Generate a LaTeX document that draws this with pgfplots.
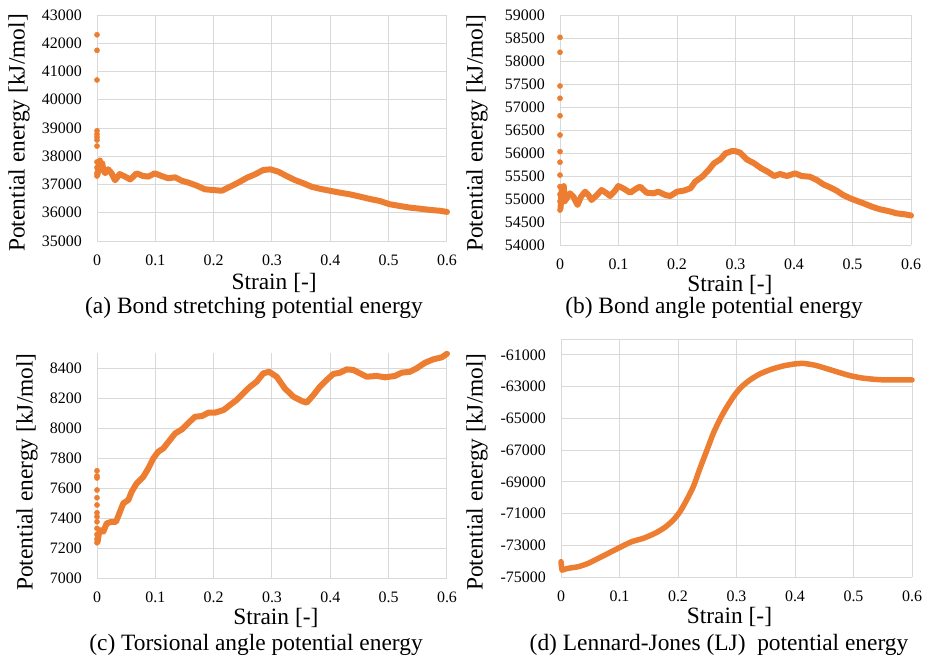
\documentclass[border=0pt]{standalone}
\usepackage{fontspec}
\setmainfont{Liberation Serif}
\usepackage{pgfplots}
\pgfplotsset{compat=1.18}
\definecolor{xlorange}{RGB}{237,125,49}
\definecolor{gridgray}{RGB}{217,217,217}
\newcommand{\tickfont}{\fontsize{16}{19}\selectfont}
\newcommand{\labfont}{\fontsize{23.5}{28}\selectfont}

\pgfplotsset{
  panel/.style={
    scale only axis, anchor=south west, clip=false,
    xmin=0, xmax=0.6, xtick={0,0.1,0.2,0.3,0.4,0.5,0.6},
    axis line style={draw=none},
    grid=major, major grid style={draw=gridgray, line width=1bp},
    major tick length=0pt, tick style={draw=none},
    /pgf/number format/assume math mode=true,
    /pgf/number format/1000 sep={},
    scaled y ticks=false,
    tick label style={font=\tickfont, inner sep=0pt},
    yticklabel style={anchor=east, xshift=-15bp},
    xticklabel style={anchor=north, yshift=-13.5bp},
    label style={font=\labfont},
    ylabel={Potential energy [kJ/mol]},
    xlabel={Strain [-]},
  },
  curve/.style={draw=xlorange, line width=6bp, line join=round, line cap=round, no marks},
  dots/.style={only marks, mark=*, mark size=2.6bp, color=xlorange},
}

\begin{document}
\begin{tikzpicture}
\path[use as bounding box] (0,0) rectangle (928bp,-658bp);

%%%%% (a) bond stretching
\begin{axis}[panel, at={(97bp,-241bp)}, width=350bp, height=226bp,
  ymin=35000, ymax=43000, ytick={35000,36000,...,43000},
  ylabel style={at={(axis description cs:-0.2229,0.478)}, anchor=center},
  xlabel style={at={(axis description cs:0.506,-0.186)}, anchor=center}]
\addplot[curve] coordinates {
(0.001,37350)(0.003,37700)(0.005,37850)(0.007,37600)(0.009,37750)(0.011,37500)
(0.014,37400)(0.019,37540)(0.025,37400)(0.031,37150)(0.039,37370)(0.048,37280)
(0.057,37180)(0.068,37395)(0.079,37300)(0.088,37280)(0.099,37395)(0.111,37300)
(0.122,37220)(0.134,37255)(0.145,37135)(0.157,37065)(0.171,36960)(0.185,36830)
(0.199,36805)(0.214,36780)(0.228,36920)(0.242,37065)(0.257,37240)(0.271,37360)
(0.285,37513)(0.297,37537)(0.311,37453)(0.325,37300)(0.339,37160)(0.354,37042)
(0.368,36920)(0.382,36850)(0.399,36780)(0.417,36710)(0.434,36650)(0.451,36570)
(0.468,36487)(0.485,36416)(0.502,36300)(0.519,36240)(0.537,36180)(0.554,36143)
(0.571,36100)(0.588,36070)(0.6,36030)};
\addplot[dots] coordinates {
(0,42300)(0,41750)(0,40700)(0,38900)(0,38780)(0,38680)(0,38575)(0,38360)
(0,37800)(0,37600)(0,37400)(0,37300)};
\end{axis}

%%%%% (b) bond angle
\begin{axis}[panel, at={(560bp,-245bp)}, width=351bp, height=230bp,
  ymin=54000, ymax=59000, ytick={54000,54500,...,59000},
  ylabel style={at={(axis description cs:-0.2365,0.487)}, anchor=center},
  xlabel style={at={(axis description cs:0.484,-0.174)}, anchor=center}]
\addplot[curve] coordinates {
(0.001,54800)(0.003,55250)(0.005,54950)(0.0065,55280)(0.008,54950)(0.0114,55015)
(0.017,55123)(0.023,55050)(0.030,54870)(0.036,55050)(0.043,55159)(0.0485,55087)
(0.054,54978)(0.063,55087)(0.071,55196)(0.080,55123)(0.0855,55065)(0.094,55180)
(0.0997,55282)(0.108,55232)(0.12,55137)(0.131,55232)(0.137,55268)(0.148,55137)
(0.16,55123)(0.168,55159)(0.18,55087)(0.1885,55065)(0.2,55159)(0.211,55180)
(0.223,55232)(0.231,55376)(0.243,55485)(0.254,55630)(0.263,55775)(0.274,55862)
(0.283,55993)(0.294,56043)(0.299,56043)(0.308,56007)(0.319,55862)(0.332,55775)
(0.344,55667)(0.355,55594)(0.366,55500)(0.376,55543)(0.388,55500)(0.402,55558)
(0.413,55500)(0.427,55485)(0.439,55413)(0.45,55319)(0.4615,55254)(0.473,55180)
(0.484,55087)(0.496,55015)(0.508,54956)(0.519,54906)(0.533,54833)(0.547,54776)
(0.561,54739)(0.5755,54688)(0.59,54667)(0.6,54640)};
\addplot[dots] coordinates {
(0,58515)(0,58190)(0,57457)(0,57190)(0,56810)(0,56390)(0,56030)(0,55800)
(0,55520)(0,55270)(0,55100)(0,54950)(0,54760)};
\end{axis}

%%%%% (c) torsional angle
\begin{axis}[panel, at={(97bp,-578bp)}, width=350bp, height=225bp,
  ymin=7000, ymax=8500, ytick={7000,7200,...,8400},
  ylabel style={at={(axis description cs:-0.2,0.471)}, anchor=center},
  xlabel style={at={(axis description cs:0.511,-0.178)}, anchor=center}]
\addplot[curve] coordinates {
(0.001,7240)(0.003,7290)(0.005,7320)(0.0108,7309)(0.0166,7364)(0.0251,7375)
(0.0326,7375)(0.0394,7442)(0.0451,7498)(0.0537,7520)(0.0594,7575)(0.068,7631)
(0.0794,7675)(0.088,7731)(0.0966,7798)(0.105,7842)(0.1137,7864)(0.125,7920)
(0.134,7964)(0.1457,7991)(0.157,8035)(0.168,8075)(0.18,8080)(0.191,8102)
(0.2023,8102)(0.217,8120)(0.228,8153)(0.2394,8187)(0.2508,8231)(0.2623,8275)
(0.2737,8309)(0.285,8364)(0.295,8375)(0.308,8342)(0.322,8264)(0.3366,8209)
(0.351,8180)(0.3594,8169)(0.371,8220)(0.382,8275)(0.3937,8320)(0.405,8360)
(0.4166,8369)(0.428,8391)(0.4394,8387)(0.451,8364)(0.4623,8342)(0.48,8347)
(0.4937,8338)(0.5108,8347)(0.5223,8369)(0.5366,8375)(0.548,8398)(0.5623,8435)
(0.5766,8458)(0.591,8471)(0.6,8495)};
\addplot[dots] coordinates {
(0,7715)(0,7680)(0,7667)(0,7587)(0,7535)(0,7487)(0,7435)(0,7409)(0,7375)
(0,7331)(0,7290)(0,7260)(0,7235)};
\end{axis}

%%%%% (d) Lennard-Jones
\begin{axis}[panel, at={(561bp,-577bp)}, width=351bp, height=238bp,
  ymin=-75000, ymax=-60000, ytick={-75000,-73000,...,-61000},
  extra y ticks={-60000}, extra y tick labels={},
  extra y tick style={grid=major},
  ylabel style={at={(axis description cs:-0.239,0.441)}, anchor=center},
  xlabel style={at={(axis description cs:0.48,-0.168)}, anchor=center}]
\addplot[curve, line width=5.5bp] coordinates {
(0,-74035)(0.001,-74400)(0.002,-74558)};
\addplot[curve, line width=5.5bp, smooth, tension=0.4] coordinates {
(0.002,-74558)(0.0125,-74450)(0.0296,-74350)(0.0467,-74136)
(0.0638,-73820)(0.0809,-73505)(0.1009,-73127)(0.1208,-72775)(0.1408,-72560)
(0.1607,-72245)(0.1778,-71866)(0.192,-71406)(0.2034,-70883)(0.2148,-70145)
(0.2262,-69306)(0.2376,-68146)(0.249,-67050)(0.2604,-65940)(0.2718,-65050)
(0.2832,-64300)(0.2974,-63500)(0.309,-63000)(0.323,-62579)(0.34,-62200)
(0.36,-61905)(0.38,-61696)(0.4,-61570)(0.415,-61540)(0.434,-61652)(0.454,-61866)
(0.474,-62093)(0.494,-62308)(0.514,-62453)(0.534,-62535)(0.554,-62579)
(0.577,-62579)(0.6,-62579)};
\end{axis}

\node[font=\labfont] at (254bp,-308bp) {(a) Bond stretching potential energy};
\node[font=\labfont] at (714bp,-308bp) {(b) Bond angle potential energy};
\node[font=\labfont] at (256bp,-645bp) {(c) Torsional angle potential energy};
\node[font=\labfont] at (719bp,-645bp) {(d) Lennard-Jones (LJ)~ potential energy};
\end{tikzpicture}
\end{document}
